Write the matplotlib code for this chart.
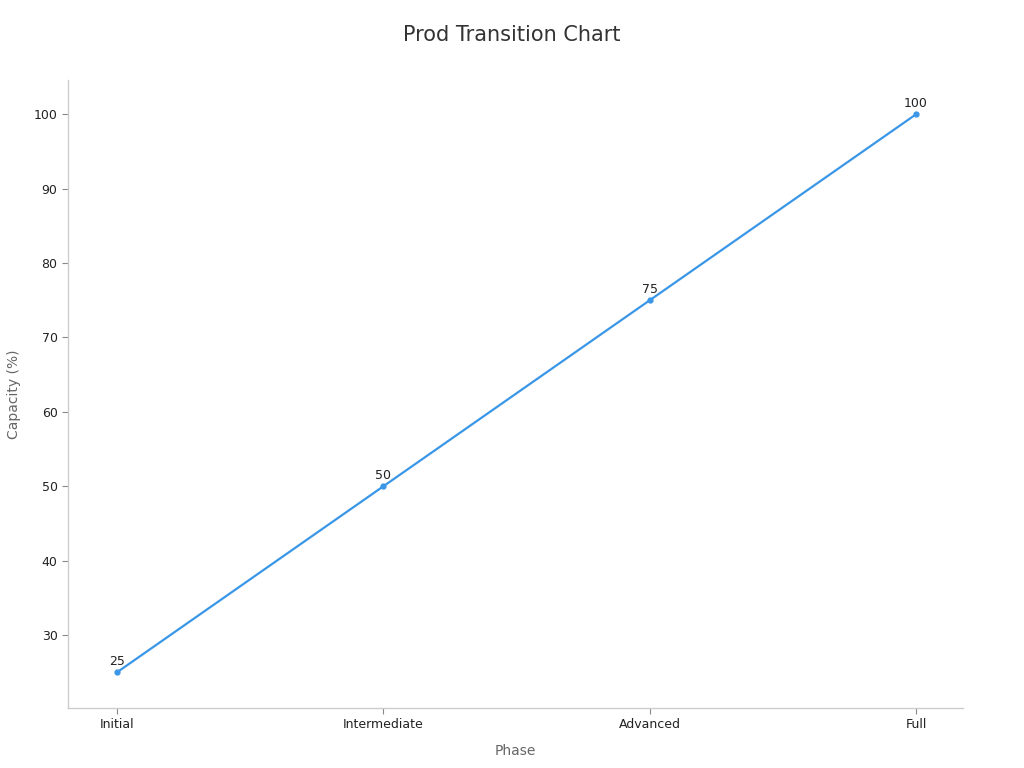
import matplotlib
matplotlib.use("Agg")
import matplotlib.pyplot as plt

phases = ["Initial", "Intermediate", "Advanced", "Full"]
capacity = [25, 50, 75, 100]

plt.rcParams["font.family"] = ["DejaVu Sans"]

fig = plt.figure(figsize=(10.24, 7.68), dpi=100)
ax = fig.add_axes([0.0664, 0.0781, 0.874, 0.8177])

x = list(range(len(phases)))
line_color = "#3a96e6"
ax.plot(x, capacity, color=line_color, linewidth=1.6, marker="o", markersize=3.5)

for xi, v in zip(x, capacity):
    ax.annotate(str(v), (xi, v), xytext=(0, 3), textcoords="offset points",
                ha="center", va="bottom", fontsize=9, color="#222222")

ax.set_xlim(-0.184, 3.176)
ax.set_ylim(20.2, 104.6)
ax.set_xticks(x)
ax.set_xticklabels(phases)
ax.set_yticks(range(30, 101, 10))
ax.tick_params(axis="both", labelsize=9, colors="#222222", length=4, width=0.8)
ax.tick_params(axis="both", color="#888888")

for side in ["top", "right"]:
    ax.spines[side].set_visible(False)
for side in ["left", "bottom"]:
    ax.spines[side].set_color("#cccccc")
    ax.spines[side].set_linewidth(1.0)

ax.set_xlabel("Phase", fontsize=10, color="#666666", labelpad=9)
ax.set_ylabel("Capacity (%)", fontsize=10, color="#666666", labelpad=9)
fig.suptitle("Prod Transition Chart", fontsize=15, color="#333333", y=0.968)

fig.savefig("out.png", dpi=100)
